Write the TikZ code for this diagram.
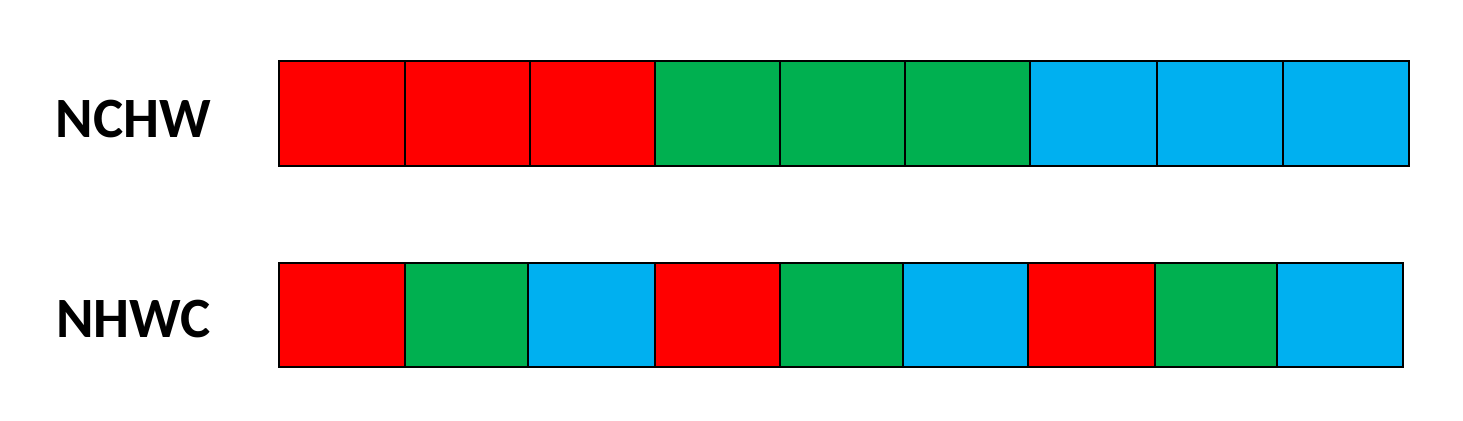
\documentclass[tikz,border=0pt]{standalone}
\usepackage{fontspec}
\setmainfont{Carlito}
\usepackage{tikz}
\definecolor{chred}{HTML}{FF0000}
\definecolor{chgreen}{HTML}{00B050}
\definecolor{chblue}{HTML}{00B0F0}
\tikzset{cell/.style={line width=0.65pt, draw=black}}
\begin{document}
\begin{tikzpicture}[x=0.5pt, y=-0.5pt]
			%%%%% START %%%%%
			\useasboundingbox (0, 0) rectangle (1463, 421);
			
			\node[inner sep=0, font=\bfseries\fontsize{28.5}{28.5}\selectfont] (nchw) at (133.5, 119.5) {NCHW};
			\node[inner sep=0, font=\bfseries\fontsize{28.5}{28.5}\selectfont] (nhwc) at (133.5, 319.5) {NHWC};
			
			%%%%% NCHW %%%%%
			\draw[cell, fill=chred] (279, 61) rectangle (405, 166);
			\draw[cell, fill=chred] (405, 61) rectangle (530, 166);
			\draw[cell, fill=chred] (530, 61) rectangle (655, 166);
			\draw[cell, fill=chgreen] (655, 61) rectangle (780, 166);
			\draw[cell, fill=chgreen] (780, 61) rectangle (905, 166);
			\draw[cell, fill=chgreen] (905, 61) rectangle (1030, 166);
			\draw[cell, fill=chblue] (1030, 61) rectangle (1157, 166);
			\draw[cell, fill=chblue] (1157, 61) rectangle (1283, 166);
			\draw[cell, fill=chblue] (1283, 61) rectangle (1409, 166);
			
			%%%%% NHWC %%%%%
			\draw[cell, fill=chred] (279, 263) rectangle (405, 367);
			\draw[cell, fill=chgreen] (405, 263) rectangle (528, 367);
			\draw[cell, fill=chblue] (528, 263) rectangle (655, 367);
			\draw[cell, fill=chred] (655, 263) rectangle (780, 367);
			\draw[cell, fill=chgreen] (780, 263) rectangle (903, 367);
			\draw[cell, fill=chblue] (903, 263) rectangle (1028, 367);
			\draw[cell, fill=chred] (1028, 263) rectangle (1155, 367);
			\draw[cell, fill=chgreen] (1155, 263) rectangle (1277, 367);
			\draw[cell, fill=chblue] (1277, 263) rectangle (1403, 367);
			
			%%%%% END %%%%%
		\end{tikzpicture}
\end{document}
